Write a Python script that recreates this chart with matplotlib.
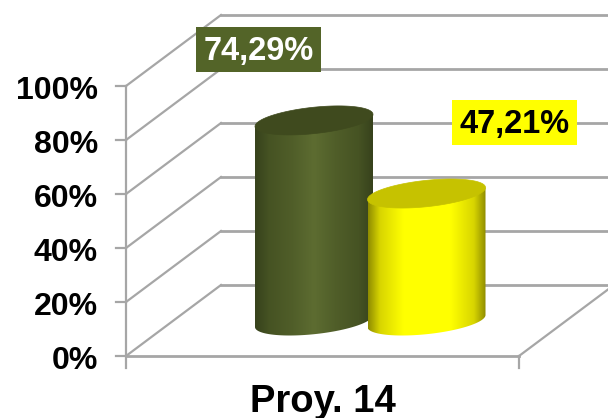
import numpy as np
import matplotlib
matplotlib.use('Agg')
import matplotlib.pyplot as plt
from matplotlib.colors import LinearSegmentedColormap
from matplotlib.patches import Polygon, Rectangle

plt.rcParams['font.family'] = ['Liberation Sans', 'DejaVu Sans']

# datos
categoria = 'Proy. 14'
valores = [74.29, 47.21]
etiquetas = ['74,29%', '47,21%']
ticks_y = [0, 20, 40, 60, 80, 100]
ticks_lab = ['0%', '20%', '40%', '60%', '80%', '100%']

# estilo: paradas del degradado y color de la tapa
degradados = [
    [(0, '#37421c'), (0.12, '#465323'), (0.32, '#505e29'), (0.5, '#5d6c31'),
     (0.68, '#505e29'), (0.88, '#465323'), (1, '#37421c')],
    [(0, '#8f8c00'), (0.1, '#d8d500'), (0.3, '#ffff00'), (0.7, '#ffff00'), (0.9, '#d8d500'), (1, '#8f8c00')],
]
tapas = ['#3f4a1e', '#c6c200']
centros = [314, 426.5]
medio_ancho = 59
GRIS = '#a6a6a6'

fig = plt.figure(figsize=(6.08, 4.18), dpi=100)
ax = fig.add_axes([0, 0, 1, 1])

# eje y en %, x en pixeles de la figura (0% en y=356, 2.7 px por punto)
PX = 2.7
y_min, y_max = (356 - 418) / PX, 356 / PX
ax.set_xlim(0, 608)
ax.set_ylim(y_min, y_max)
ax.axis('off')

dx, dy = 95, 71 / PX  # profundidad de la caja 3D
x0, x1 = 126, 519

# paredes y piso
for t, lab in zip(ticks_y, ticks_lab):
    ax.plot([x0, x0 + dx], [t, t + dy], color=GRIS, lw=1.6, zorder=1)
    ax.plot([x0 + dx, 608], [t + dy, t + dy], color=GRIS, lw=2, zorder=1)
    ax.plot([x0 - 10, x0], [t, t], color=GRIS, lw=1.6, zorder=1)
    ax.text(98, t - 1.8, lab, ha='right', va='center',
            fontsize=23, fontweight='bold', color='black')
ax.plot([x0, x0], [-12 / PX, 100], color=GRIS, lw=1.6, zorder=1)
ax.plot([x0, x1], [0, 0], color=GRIS, lw=2, zorder=1)
ax.plot([x1, x1], [-12 / PX, 0], color=GRIS, lw=1.6, zorder=1)
ax.plot([x1, 608], [0, 89 * (71 / 95) / PX], color=GRIS, lw=1.6, zorder=1)


def cilindro(cx, valor, stops, tapa, z):
    base = 35 / PX  # la base del cilindro queda sobre el piso
    t = np.linspace(0, 2 * np.pi, 200)
    ex = cx + medio_ancho * np.cos(t)
    # elipse inclinada, lado derecho mas alto
    ey = (6 * np.cos(t) + 13.2 * np.sin(t)) / PX

    abajo = t[:100]
    xb = cx + medio_ancho * np.cos(abajo)
    yb = (6 * np.cos(abajo) - 13.2 * np.sin(abajo)) / PX + base
    xt = xb[::-1]
    yt = (6 * np.cos(abajo[::-1])) / PX + base + valor
    cuerpo = Polygon(np.column_stack([np.r_[xb, xt], np.r_[yb, yt]]),
                     closed=True, transform=ax.transData, fc='none', ec='none')
    ax.add_patch(cuerpo)

    cmap = LinearSegmentedColormap.from_list('c', stops)
    grad = np.linspace(0, 1, 256).reshape(1, -1)
    im = ax.imshow(grad, cmap=cmap, aspect='auto', zorder=z,
                   extent=[cx - medio_ancho, cx + medio_ancho, base - 6, base + valor + 6])
    im.set_clip_path(cuerpo)

    ax.fill(ex, ey + base + valor, color=tapa, zorder=z + 0.1, lw=0.5)


for c, v, st, tp, z in zip(centros, valores, degradados, tapas, [2, 3]):
    cilindro(c, v, st, tp, z)

ax.set_xlim(0, 608)
ax.set_ylim(y_min, y_max)

# etiquetas de datos: caja de 125x45 px
for xc, yc, lab, fc, tc in [(258.5, 49.5, etiquetas[0], '#536428', 'white'),
                            (514.5, 122.5, etiquetas[1], '#ffff00', 'black')]:
    ax.add_patch(Rectangle((xc - 62.5, (356 - yc - 22.5) / PX), 125, 45 / PX,
                           fc=fc, ec='none', zorder=5))
    ax.text(xc, (356 - yc - 2) / PX, lab, ha='center', va='center', fontsize=23.5,
            fontweight='bold', color=tc, zorder=6)

# en la referencia este texto tambien queda cortado por el borde inferior
ax.text(323, (356 - 402) / PX, categoria, ha='center', va='center', fontsize=27.5,
        fontweight='bold', color='black')

fig.savefig('out.png', dpi=100)
